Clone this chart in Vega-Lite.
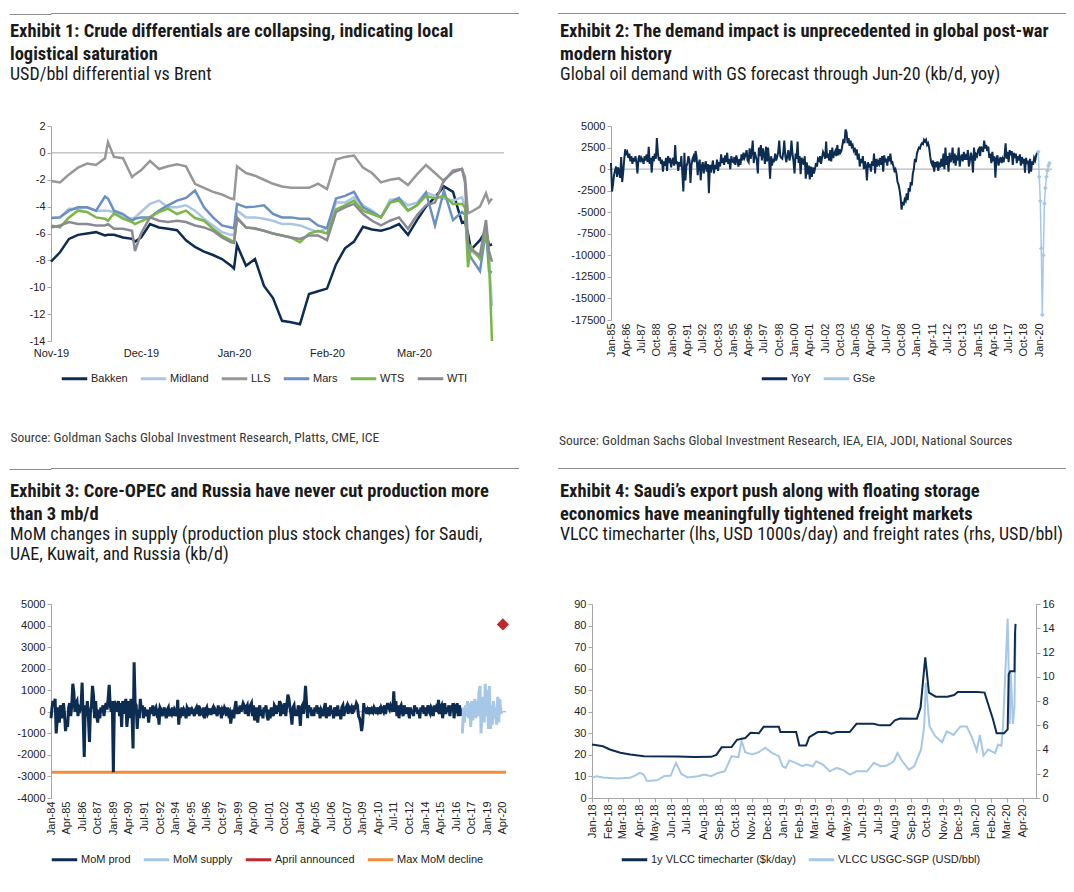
{
"$schema": "https://vega.github.io/schema/vega-lite/v6.json",
"padding": {"left": 8, "top": 10, "right": 0, "bottom": 0},
"background": "white",
"config": {
  "font": "Liberation Sans",
  "view": {"stroke": null},
  "locale": {"number": {"decimal": ".", "thousands": ",", "grouping": [3], "currency": ["$", ""], "minus": "-"}},
  "axis": {"labelFont": "Liberation Sans", "labelFontSize": 11, "labelColor": "#222222", "domainColor": "#a6a6a6", "tickColor": "#a6a6a6", "grid": false, "tickSize": 4, "labelPadding": 2},
  "legend": {"labelFont": "Liberation Sans", "labelFontSize": 11, "labelColor": "#222222", "symbolType": "stroke", "symbolStrokeWidth": 3, "symbolSize": 650, "labelOffset": 2, "columnPadding": 6},
  "title": {"font": "Roboto Condensed", "fontSize": 18.5, "fontWeight": "bold", "color": "#1a1a1a", "anchor": "start", "frame": "bounds", "lineHeight": 23, "subtitleFont": "Roboto Condensed", "subtitleFontSize": 18, "subtitleColor": "#1a1a1a", "subtitleLineHeight": 20, "subtitlePadding": 3, "dx": 1}
},
"datasets": {
"p1": [
{"d":"2019-11-01","Bakken":-8.1,"Midland":-4.85,"LLS":-2.1,"Mars":-4.85,"WTS":-5.4,"WTI":-5.55},
{"d":"2019-11-04","Bakken":-7.4,"Midland":-4.8,"LLS":-2.2,"Mars":-4.8,"WTS":-5.55,"WTI":-5.4},
{"d":"2019-11-07","Bakken":-6.4,"Midland":-4.15,"LLS":-1.6,"Mars":-4.3,"WTS":-4.8,"WTI":-5.15},
{"d":"2019-11-10","Bakken":-6.1,"Midland":-4.15,"LLS":-1.1,"Mars":-4.05,"WTS":-4.3,"WTI":-5.3},
{"d":"2019-11-13","Bakken":-6.0,"Midland":-4.05,"LLS":-0.8,"Mars":-4.05,"WTS":-4.4,"WTI":-5.3},
{"d":"2019-11-16","Bakken":-5.9,"Midland":-4.3,"LLS":-0.9,"Mars":-4.3,"WTS":-4.8,"WTI":-5.4},
{"d":"2019-11-19","Bakken":-6.15,"Midland":-4.3,"LLS":-0.4,"Mars":-3.25,"WTS":-4.9,"WTI":-5.4},
{"d":"2019-11-20","Bakken":-6.1,"Midland":-4.3,"LLS":0.8,"Mars":-3.4,"WTS":-5.05,"WTI":-5.3},
{"d":"2019-11-22","Bakken":-6.1,"Midland":-4.4,"LLS":-0.3,"Mars":-4.3,"WTS":-4.5,"WTI":-5.65},
{"d":"2019-11-25","Bakken":-6.3,"Midland":-4.75,"LLS":-0.4,"Mars":-4.55,"WTS":-4.9,"WTI":-5.65},
{"d":"2019-11-28","Bakken":-6.4,"Midland":-4.9,"LLS":-1.8,"Mars":-5.05,"WTS":-5.15,"WTI":-5.8},
{"d":"2019-11-29","Bakken":-6.6,"Midland":-4.8,"LLS":-1.6,"Mars":-4.9,"WTS":-5.3,"WTI":-7.3},
{"d":"2019-12-01","Bakken":-6.3,"Midland":-4.4,"LLS":-1.3,"Mars":-4.8,"WTS":-5.1,"WTI":-6.0},
{"d":"2019-12-04","Bakken":-5.3,"Midland":-3.8,"LLS":-0.6,"Mars":-4.8,"WTS":-4.8,"WTI":-4.8},
{"d":"2019-12-07","Bakken":-5.55,"Midland":-3.55,"LLS":-1.2,"Mars":-4.3,"WTS":-4.4,"WTI":-5.05},
{"d":"2019-12-10","Bakken":-5.65,"Midland":-4.05,"LLS":-1.0,"Mars":-3.9,"WTS":-4.15,"WTI":-5.15},
{"d":"2019-12-13","Bakken":-5.75,"Midland":-4.05,"LLS":-0.85,"Mars":-3.55,"WTS":-4.55,"WTI":-5.05},
{"d":"2019-12-16","Bakken":-6.5,"Midland":-3.9,"LLS":-1.0,"Mars":-3.35,"WTS":-4.3,"WTI":-5.15},
{"d":"2019-12-19","Bakken":-7.0,"Midland":-4.3,"LLS":-2.3,"Mars":-2.8,"WTS":-4.85,"WTI":-5.4},
{"d":"2019-12-22","Bakken":-7.35,"Midland":-4.9,"LLS":-2.6,"Mars":-4.05,"WTS":-5.05,"WTI":-5.55},
{"d":"2019-12-25","Bakken":-7.6,"Midland":-5.4,"LLS":-2.9,"Mars":-4.8,"WTS":-5.65,"WTI":-5.8},
{"d":"2019-12-28","Bakken":-7.9,"Midland":-5.9,"LLS":-3.1,"Mars":-5.4,"WTS":-6.15,"WTI":-6.3},
{"d":"2019-12-31","Bakken":-8.4,"Midland":-6.1,"LLS":-3.4,"Mars":-5.55,"WTS":-6.5,"WTI":-6.65},
{"d":"2020-01-01","Bakken":-8.6,"Midland":-6.1,"LLS":-3.45,"Mars":-5.6,"WTS":-6.65,"WTI":-6.7},
{"d":"2020-01-02","Bakken":-6.85,"Midland":-4.3,"LLS":-1.0,"Mars":-3.8,"WTS":-4.9,"WTI":-4.8},
{"d":"2020-01-05","Bakken":-8.4,"Midland":-4.8,"LLS":-1.5,"Mars":-4.05,"WTS":-5.55,"WTI":-5.55},
{"d":"2020-01-08","Bakken":-7.9,"Midland":-4.8,"LLS":-1.7,"Mars":-4.0,"WTS":-5.6,"WTI":-5.65},
{"d":"2020-01-11","Bakken":-9.9,"Midland":-4.9,"LLS":-2.0,"Mars":-3.9,"WTS":-5.8,"WTI":-5.8},
{"d":"2020-01-14","Bakken":-10.8,"Midland":-5.05,"LLS":-2.3,"Mars":-4.55,"WTS":-6.0,"WTI":-6.0},
{"d":"2020-01-17","Bakken":-12.5,"Midland":-5.3,"LLS":-2.5,"Mars":-4.8,"WTS":-6.15,"WTI":-6.15},
{"d":"2020-01-20","Bakken":-12.6,"Midland":-5.3,"LLS":-2.6,"Mars":-4.8,"WTS":-6.3,"WTI":-6.3},
{"d":"2020-01-23","Bakken":-12.75,"Midland":-5.4,"LLS":-2.6,"Mars":-4.9,"WTS":-6.65,"WTI":-6.4},
{"d":"2020-01-26","Bakken":-10.5,"Midland":-5.65,"LLS":-2.6,"Mars":-4.9,"WTS":-6.0,"WTI":-6.15},
{"d":"2020-01-29","Bakken":-10.3,"Midland":-5.9,"LLS":-2.3,"Mars":-5.4,"WTS":-5.8,"WTI":-6.15},
{"d":"2020-02-01","Bakken":-10.1,"Midland":-5.6,"LLS":-2.7,"Mars":-5.6,"WTS":-6.0,"WTI":-6.5},
{"d":"2020-02-04","Bakken":-8.3,"Midland":-3.7,"LLS":-0.5,"Mars":-3.4,"WTS":-4.2,"WTI":-4.4},
{"d":"2020-02-07","Bakken":-7.1,"Midland":-3.7,"LLS":-0.3,"Mars":-3.2,"WTS":-3.9,"WTI":-4.05},
{"d":"2020-02-10","Bakken":-6.6,"Midland":-3.3,"LLS":-0.2,"Mars":-2.9,"WTS":-3.55,"WTI":-3.8},
{"d":"2020-02-13","Bakken":-5.5,"Midland":-3.9,"LLS":-1.1,"Mars":-4.05,"WTS":-4.3,"WTI":-4.55},
{"d":"2020-02-16","Bakken":-5.7,"Midland":-4.3,"LLS":-1.5,"Mars":-4.4,"WTS":-4.55,"WTI":-5.05},
{"d":"2020-02-19","Bakken":-5.8,"Midland":-4.8,"LLS":-2.2,"Mars":-4.8,"WTS":-4.8,"WTI":-5.4},
{"d":"2020-02-22","Bakken":-5.6,"Midland":-3.5,"LLS":-2.0,"Mars":-3.7,"WTS":-3.7,"WTI":-5.05},
{"d":"2020-02-25","Bakken":-5.3,"Midland":-3.4,"LLS":-1.9,"Mars":-3.35,"WTS":-3.55,"WTI":-4.8},
{"d":"2020-02-28","Bakken":-6.1,"Midland":-3.9,"LLS":-2.4,"Mars":-4.3,"WTS":-4.3,"WTI":-5.65},
{"d":"2020-03-02","Bakken":-5.0,"Midland":-3.7,"LLS":-1.6,"Mars":-3.9,"WTS":-3.9,"WTI":-4.65},
{"d":"2020-03-05","Bakken":-4.0,"Midland":-2.95,"LLS":-0.9,"Mars":-2.95,"WTS":-3.2,"WTI":-3.9},
{"d":"2020-03-08","Bakken":-3.3,"Midland":-3.2,"LLS":-1.5,"Mars":-5.4,"WTS":-3.4,"WTI":-3.7},
{"d":"2020-03-11","Bakken":-2.5,"Midland":-3.4,"LLS":-2.1,"Mars":-2.8,"WTS":-3.2,"WTI":-2.0},
{"d":"2020-03-14","Bakken":-2.9,"Midland":-3.55,"LLS":-1.3,"Mars":-5.0,"WTS":-3.8,"WTI":-1.45},
{"d":"2020-03-17","Bakken":-5.2,"Midland":-3.3,"LLS":-1.2,"Mars":-4.4,"WTS":-3.8,"WTI":-1.2},
{"d":"2020-03-18","Bakken":-5.1,"Midland":-4.05,"LLS":-1.8,"Mars":-4.6,"WTS":-4.05,"WTI":-2.2},
{"d":"2020-03-19","Bakken":-6.0,"Midland":-6.8,"LLS":-4.5,"Mars":-7.3,"WTS":-8.5,"WTI":-6.8},
{"d":"2020-03-20","Bakken":-7.2,"Midland":-7.3,"LLS":-4.4,"Mars":-7.8,"WTS":-7.0,"WTI":-7.2},
{"d":"2020-03-23","Bakken":-6.5,"Midland":-7.8,"LLS":-4.0,"Mars":-8.8,"WTS":-7.9,"WTI":-7.6},
{"d":"2020-03-25","Bakken":-5.8,"Midland":-6.0,"LLS":-3.0,"Mars":-5.7,"WTS":-5.6,"WTI":-5.0},
{"d":"2020-03-26","Bakken":-6.9,"Midland":-8.0,"LLS":-3.7,"Mars":-8.8,"WTS":-8.0,"WTI":-7.3},
{"d":"2020-03-27","Bakken":-6.8,"Midland":-11.4,"LLS":-3.4,"Mars":-8.9,"WTS":-14.0,"WTI":-8.1}
],
"yoy": [
{"t":"1985-01","v":700},{"t":"1985-02","v":-2600},{"t":"1985-03","v":-1800},{"t":"1985-04","v":-700},{"t":"1985-05","v":-200},{"t":"1985-06","v":300},{"t":"1985-07","v":-900},{"t":"1985-08","v":200},{"t":"1985-09","v":-300},{"t":"1985-10","v":-1000},{"t":"1985-11","v":1400},{"t":"1985-12","v":-1500},
{"t":"1986-01","v":-300},{"t":"1986-02","v":1200},{"t":"1986-03","v":2300},{"t":"1986-04","v":1800},{"t":"1986-05","v":2000},{"t":"1986-06","v":1300},{"t":"1986-07","v":1800},{"t":"1986-08","v":900},{"t":"1986-09","v":1500},{"t":"1986-10","v":600},{"t":"1986-11","v":1300},{"t":"1986-12","v":900},
{"t":"1987-01","v":1500},{"t":"1987-02","v":700},{"t":"1987-03","v":-500},{"t":"1987-04","v":1200},{"t":"1987-05","v":1600},{"t":"1987-06","v":800},{"t":"1987-07","v":1300},{"t":"1987-08","v":1100},{"t":"1987-09","v":600},{"t":"1987-10","v":1500},{"t":"1987-11","v":1000},{"t":"1987-12","v":1700},
{"t":"1988-01","v":800},{"t":"1988-02","v":2600},{"t":"1988-03","v":600},{"t":"1988-04","v":1300},{"t":"1988-05","v":-400},{"t":"1988-06","v":1500},{"t":"1988-07","v":900},{"t":"1988-08","v":1800},{"t":"1988-09","v":1200},{"t":"1988-10","v":3600},{"t":"1988-11","v":1800},{"t":"1988-12","v":1000},
{"t":"1989-01","v":1400},{"t":"1989-02","v":600},{"t":"1989-03","v":1100},{"t":"1989-04","v":-300},{"t":"1989-05","v":900},{"t":"1989-06","v":400},{"t":"1989-07","v":1300},{"t":"1989-08","v":-200},{"t":"1989-09","v":1500},{"t":"1989-10","v":700},{"t":"1989-11","v":1300},{"t":"1989-12","v":200},
{"t":"1990-01","v":900},{"t":"1990-02","v":1300},{"t":"1990-03","v":400},{"t":"1990-04","v":2800},{"t":"1990-05","v":600},{"t":"1990-06","v":900},{"t":"1990-07","v":-200},{"t":"1990-08","v":800},{"t":"1990-09","v":300},{"t":"1990-10","v":1500},{"t":"1990-11","v":-600},{"t":"1990-12","v":-2600},
{"t":"1991-01","v":1900},{"t":"1991-02","v":-1300},{"t":"1991-03","v":300},{"t":"1991-04","v":700},{"t":"1991-05","v":1500},{"t":"1991-06","v":1000},{"t":"1991-07","v":-1600},{"t":"1991-08","v":500},{"t":"1991-09","v":1200},{"t":"1991-10","v":1500},{"t":"1991-11","v":800},{"t":"1991-12","v":2100},
{"t":"1992-01","v":1400},{"t":"1992-02","v":-700},{"t":"1992-03","v":600},{"t":"1992-04","v":1100},{"t":"1992-05","v":-1300},{"t":"1992-06","v":300},{"t":"1992-07","v":800},{"t":"1992-08","v":-500},{"t":"1992-09","v":400},{"t":"1992-10","v":900},{"t":"1992-11","v":-300},{"t":"1992-12","v":600},
{"t":"1993-01","v":-2800},{"t":"1993-02","v":500},{"t":"1993-03","v":-400},{"t":"1993-04","v":300},{"t":"1993-05","v":1000},{"t":"1993-06","v":-500},{"t":"1993-07","v":500},{"t":"1993-08","v":0},{"t":"1993-09","v":1100},{"t":"1993-10","v":-200},{"t":"1993-11","v":800},{"t":"1993-12","v":300},
{"t":"1994-01","v":1700},{"t":"1994-02","v":700},{"t":"1994-03","v":1300},{"t":"1994-04","v":500},{"t":"1994-05","v":1600},{"t":"1994-06","v":800},{"t":"1994-07","v":1900},{"t":"1994-08","v":600},{"t":"1994-09","v":1200},{"t":"1994-10","v":0},{"t":"1994-11","v":1500},{"t":"1994-12","v":900},
{"t":"1995-01","v":800},{"t":"1995-02","v":1400},{"t":"1995-03","v":500},{"t":"1995-04","v":1600},{"t":"1995-05","v":1000},{"t":"1995-06","v":300},{"t":"1995-07","v":1200},{"t":"1995-08","v":500},{"t":"1995-09","v":1700},{"t":"1995-10","v":1000},{"t":"1995-11","v":1900},{"t":"1995-12","v":1300},
{"t":"1996-01","v":1600},{"t":"1996-02","v":2200},{"t":"1996-03","v":1000},{"t":"1996-04","v":800},{"t":"1996-05","v":2400},{"t":"1996-06","v":1200},{"t":"1996-07","v":1900},{"t":"1996-08","v":3300},{"t":"1996-09","v":700},{"t":"1996-10","v":2000},{"t":"1996-11","v":1500},{"t":"1996-12","v":1000},
{"t":"1997-01","v":-500},{"t":"1997-02","v":2500},{"t":"1997-03","v":1500},{"t":"1997-04","v":2800},{"t":"1997-05","v":1000},{"t":"1997-06","v":2400},{"t":"1997-07","v":1700},{"t":"1997-08","v":600},{"t":"1997-09","v":2600},{"t":"1997-10","v":900},{"t":"1997-11","v":2500},{"t":"1997-12","v":1200},
{"t":"1998-01","v":-1100},{"t":"1998-02","v":1500},{"t":"1998-03","v":400},{"t":"1998-04","v":1200},{"t":"1998-05","v":800},{"t":"1998-06","v":1800},{"t":"1998-07","v":1000},{"t":"1998-08","v":1400},{"t":"1998-09","v":2000},{"t":"1998-10","v":3300},{"t":"1998-11","v":1500},{"t":"1998-12","v":1300},
{"t":"1999-01","v":1200},{"t":"1999-02","v":2000},{"t":"1999-03","v":3300},{"t":"1999-04","v":1500},{"t":"1999-05","v":800},{"t":"1999-06","v":1600},{"t":"1999-07","v":2200},{"t":"1999-08","v":1000},{"t":"1999-09","v":1500},{"t":"1999-10","v":3300},{"t":"1999-11","v":1800},{"t":"1999-12","v":900},
{"t":"2000-01","v":-500},{"t":"2000-02","v":1800},{"t":"2000-03","v":1200},{"t":"2000-04","v":3200},{"t":"2000-05","v":700},{"t":"2000-06","v":1500},{"t":"2000-07","v":-600},{"t":"2000-08","v":1300},{"t":"2000-09","v":1000},{"t":"2000-10","v":500},{"t":"2000-11","v":1500},{"t":"2000-12","v":-1100},
{"t":"2001-01","v":800},{"t":"2001-02","v":-600},{"t":"2001-03","v":400},{"t":"2001-04","v":-1200},{"t":"2001-05","v":300},{"t":"2001-06","v":-900},{"t":"2001-07","v":200},{"t":"2001-08","v":-500},{"t":"2001-09","v":0},{"t":"2001-10","v":700},{"t":"2001-11","v":300},{"t":"2001-12","v":1200},
{"t":"2002-01","v":1000},{"t":"2002-02","v":1500},{"t":"2002-03","v":600},{"t":"2002-04","v":1300},{"t":"2002-05","v":2000},{"t":"2002-06","v":1700},{"t":"2002-07","v":1200},{"t":"2002-08","v":3200},{"t":"2002-09","v":1300},{"t":"2002-10","v":1800},{"t":"2002-11","v":1000},{"t":"2002-12","v":2200},
{"t":"2003-01","v":900},{"t":"2003-02","v":2500},{"t":"2003-03","v":1300},{"t":"2003-04","v":1800},{"t":"2003-05","v":2100},{"t":"2003-06","v":1500},{"t":"2003-07","v":2800},{"t":"2003-08","v":1600},{"t":"2003-09","v":2300},{"t":"2003-10","v":1900},{"t":"2003-11","v":2100},{"t":"2003-12","v":2800},
{"t":"2004-01","v":3500},{"t":"2004-02","v":3000},{"t":"2004-03","v":4600},{"t":"2004-04","v":4300},{"t":"2004-05","v":3000},{"t":"2004-06","v":3600},{"t":"2004-07","v":2700},{"t":"2004-08","v":3300},{"t":"2004-09","v":2600},{"t":"2004-10","v":2800},{"t":"2004-11","v":2200},{"t":"2004-12","v":2500},
{"t":"2005-01","v":1600},{"t":"2005-02","v":2300},{"t":"2005-03","v":1100},{"t":"2005-04","v":1800},{"t":"2005-05","v":300},{"t":"2005-06","v":1200},{"t":"2005-07","v":700},{"t":"2005-08","v":1500},{"t":"2005-09","v":0},{"t":"2005-10","v":900},{"t":"2005-11","v":400},{"t":"2005-12","v":-1300},
{"t":"2006-01","v":800},{"t":"2006-02","v":200},{"t":"2006-03","v":600},{"t":"2006-04","v":-300},{"t":"2006-05","v":900},{"t":"2006-06","v":400},{"t":"2006-07","v":1800},{"t":"2006-08","v":-500},{"t":"2006-09","v":1200},{"t":"2006-10","v":300},{"t":"2006-11","v":900},{"t":"2006-12","v":600},
{"t":"2007-01","v":1300},{"t":"2007-02","v":500},{"t":"2007-03","v":1500},{"t":"2007-04","v":-300},{"t":"2007-05","v":1600},{"t":"2007-06","v":800},{"t":"2007-07","v":1200},{"t":"2007-08","v":400},{"t":"2007-09","v":1500},{"t":"2007-10","v":900},{"t":"2007-11","v":1800},{"t":"2007-12","v":700},
{"t":"2008-01","v":800},{"t":"2008-02","v":300},{"t":"2008-03","v":-200},{"t":"2008-04","v":0},{"t":"2008-05","v":-500},{"t":"2008-06","v":-1500},{"t":"2008-07","v":-1800},{"t":"2008-08","v":-2400},{"t":"2008-09","v":-3300},{"t":"2008-10","v":-4700},{"t":"2008-11","v":-3800},{"t":"2008-12","v":-4200},
{"t":"2009-01","v":-3500},{"t":"2009-02","v":-3700},{"t":"2009-03","v":-2800},{"t":"2009-04","v":-3600},{"t":"2009-05","v":-2200},{"t":"2009-06","v":-2600},{"t":"2009-07","v":-1500},{"t":"2009-08","v":-1900},{"t":"2009-09","v":-500},{"t":"2009-10","v":0},{"t":"2009-11","v":1200},{"t":"2009-12","v":800},
{"t":"2010-01","v":1800},{"t":"2010-02","v":2200},{"t":"2010-03","v":2500},{"t":"2010-04","v":2400},{"t":"2010-05","v":2800},{"t":"2010-06","v":3000},{"t":"2010-07","v":2900},{"t":"2010-08","v":3400},{"t":"2010-09","v":3200},{"t":"2010-10","v":3400},{"t":"2010-11","v":2800},{"t":"2010-12","v":3000},
{"t":"2011-01","v":2500},{"t":"2011-02","v":1500},{"t":"2011-03","v":800},{"t":"2011-04","v":500},{"t":"2011-05","v":1000},{"t":"2011-06","v":-300},{"t":"2011-07","v":800},{"t":"2011-08","v":200},{"t":"2011-09","v":900},{"t":"2011-10","v":-200},{"t":"2011-11","v":600},{"t":"2011-12","v":400},
{"t":"2012-01","v":1200},{"t":"2012-02","v":300},{"t":"2012-03","v":1800},{"t":"2012-04","v":0},{"t":"2012-05","v":2500},{"t":"2012-06","v":500},{"t":"2012-07","v":1500},{"t":"2012-08","v":-300},{"t":"2012-09","v":1900},{"t":"2012-10","v":800},{"t":"2012-11","v":1200},{"t":"2012-12","v":2500},
{"t":"2013-01","v":700},{"t":"2013-02","v":1800},{"t":"2013-03","v":400},{"t":"2013-04","v":1600},{"t":"2013-05","v":1000},{"t":"2013-06","v":2500},{"t":"2013-07","v":300},{"t":"2013-08","v":1300},{"t":"2013-09","v":1700},{"t":"2013-10","v":900},{"t":"2013-11","v":2000},{"t":"2013-12","v":1100},
{"t":"2014-01","v":1500},{"t":"2014-02","v":1100},{"t":"2014-03","v":2200},{"t":"2014-04","v":300},{"t":"2014-05","v":1000},{"t":"2014-06","v":1900},{"t":"2014-07","v":1300},{"t":"2014-08","v":-400},{"t":"2014-09","v":2500},{"t":"2014-10","v":1000},{"t":"2014-11","v":1700},{"t":"2014-12","v":1500},
{"t":"2015-01","v":2200},{"t":"2015-02","v":2400},{"t":"2015-03","v":1500},{"t":"2015-04","v":2600},{"t":"2015-05","v":2300},{"t":"2015-06","v":2000},{"t":"2015-07","v":3300},{"t":"2015-08","v":2400},{"t":"2015-09","v":2800},{"t":"2015-10","v":2100},{"t":"2015-11","v":2600},{"t":"2015-12","v":1300},
{"t":"2016-01","v":1800},{"t":"2016-02","v":700},{"t":"2016-03","v":2000},{"t":"2016-04","v":900},{"t":"2016-05","v":1500},{"t":"2016-06","v":-1000},{"t":"2016-07","v":1200},{"t":"2016-08","v":1600},{"t":"2016-09","v":400},{"t":"2016-10","v":1000},{"t":"2016-11","v":1400},{"t":"2016-12","v":700},
{"t":"2017-01","v":1200},{"t":"2017-02","v":800},{"t":"2017-03","v":1500},{"t":"2017-04","v":3000},{"t":"2017-05","v":1200},{"t":"2017-06","v":2000},{"t":"2017-07","v":800},{"t":"2017-08","v":2200},{"t":"2017-09","v":1600},{"t":"2017-10","v":2100},{"t":"2017-11","v":500},{"t":"2017-12","v":1900},
{"t":"2018-01","v":1300},{"t":"2018-02","v":1800},{"t":"2018-03","v":700},{"t":"2018-04","v":1500},{"t":"2018-05","v":1000},{"t":"2018-06","v":1700},{"t":"2018-07","v":400},{"t":"2018-08","v":1400},{"t":"2018-09","v":900},{"t":"2018-10","v":1200},{"t":"2018-11","v":-400},{"t":"2018-12","v":1300},
{"t":"2019-01","v":600},{"t":"2019-02","v":1000},{"t":"2019-03","v":-500},{"t":"2019-04","v":1200},{"t":"2019-05","v":-300},{"t":"2019-06","v":900},{"t":"2019-07","v":500},{"t":"2019-08","v":1300},{"t":"2019-09","v":1000},{"t":"2019-10","v":1600},{"t":"2019-11","v":1900}
],
"gse": [
{"t":"2019-12","v":2000},{"t":"2020-01","v":-900},{"t":"2020-02","v":-3700},{"t":"2020-03","v":-9200},{"t":"2020-04","v":-16900},{"t":"2020-05","v":-10000},{"t":"2020-06","v":-4000},{"t":"2020-07","v":-2200},{"t":"2020-08","v":-900},{"t":"2020-09","v":-200},{"t":"2020-10","v":400},{"t":"2020-11","v":700}
],
"prod": [
{"t":"1984-01","v":-300},{"t":"1984-02","v":200},{"t":"1984-03","v":500},{"t":"1984-04","v":300},{"t":"1984-05","v":600},{"t":"1984-06","v":-1000},{"t":"1984-07","v":-400},{"t":"1984-08","v":200},{"t":"1984-09","v":-500},{"t":"1984-10","v":300},{"t":"1984-11","v":100},{"t":"1984-12","v":-300},
{"t":"1985-01","v":400},{"t":"1985-02","v":-100},{"t":"1985-03","v":-900},{"t":"1985-04","v":-500},{"t":"1985-05","v":-700},{"t":"1985-06","v":200},{"t":"1985-07","v":400},{"t":"1985-08","v":-200},{"t":"1985-09","v":300},{"t":"1985-10","v":1300},{"t":"1985-11","v":900},{"t":"1985-12","v":0},
{"t":"1986-01","v":400},{"t":"1986-02","v":500},{"t":"1986-03","v":-200},{"t":"1986-04","v":200},{"t":"1986-05","v":100},{"t":"1986-06","v":300},{"t":"1986-07","v":1350},{"t":"1986-08","v":-300},{"t":"1986-09","v":-2100},{"t":"1986-10","v":300},{"t":"1986-11","v":-200},{"t":"1986-12","v":500},
{"t":"1987-01","v":-300},{"t":"1987-02","v":-1400},{"t":"1987-03","v":0},{"t":"1987-04","v":300},{"t":"1987-05","v":1200},{"t":"1987-06","v":700},{"t":"1987-07","v":-300},{"t":"1987-08","v":500},{"t":"1987-09","v":-200},{"t":"1987-10","v":-500},{"t":"1987-11","v":100},{"t":"1987-12","v":-300},
{"t":"1988-01","v":200},{"t":"1988-02","v":0},{"t":"1988-03","v":300},{"t":"1988-04","v":-200},{"t":"1988-05","v":200},{"t":"1988-06","v":400},{"t":"1988-07","v":100},{"t":"1988-08","v":600},{"t":"1988-09","v":1250},{"t":"1988-10","v":300},{"t":"1988-11","v":0},{"t":"1988-12","v":500},
{"t":"1989-01","v":-2800},{"t":"1989-02","v":500},{"t":"1989-03","v":400},{"t":"1989-04","v":200},{"t":"1989-05","v":0},{"t":"1989-06","v":500},{"t":"1989-07","v":-200},{"t":"1989-08","v":400},{"t":"1989-09","v":-700},{"t":"1989-10","v":500},{"t":"1989-11","v":300},{"t":"1989-12","v":-100},
{"t":"1990-01","v":600},{"t":"1990-02","v":-700},{"t":"1990-03","v":-200},{"t":"1990-04","v":500},{"t":"1990-05","v":-300},{"t":"1990-06","v":600},{"t":"1990-07","v":-100},{"t":"1990-08","v":-1700},{"t":"1990-09","v":2300},{"t":"1990-10","v":400},{"t":"1990-11","v":300},{"t":"1990-12","v":-800},
{"t":"1991-01","v":100},{"t":"1991-02","v":-300},{"t":"1991-03","v":600},{"t":"1991-04","v":100},{"t":"1991-05","v":300},{"t":"1991-06","v":-300},{"t":"1991-07","v":200},{"t":"1991-08","v":0},{"t":"1991-09","v":-200},{"t":"1991-10","v":100},{"t":"1991-11","v":-500},{"t":"1991-12","v":0},
{"t":"1992-01","v":200},{"t":"1992-02","v":-100},{"t":"1992-03","v":300},{"t":"1992-04","v":-200},{"t":"1992-05","v":100},{"t":"1992-06","v":200},{"t":"1992-07","v":-100},{"t":"1992-08","v":0},{"t":"1992-09","v":-600},{"t":"1992-10","v":200},{"t":"1992-11","v":100},{"t":"1992-12","v":-200},
{"t":"1993-01","v":0},{"t":"1993-02","v":200},{"t":"1993-03","v":-100},{"t":"1993-04","v":-300},{"t":"1993-05","v":100},{"t":"1993-06","v":200},{"t":"1993-07","v":-200},{"t":"1993-08","v":0},{"t":"1993-09","v":-100},{"t":"1993-10","v":200},{"t":"1993-11","v":-200},{"t":"1993-12","v":100},
{"t":"1994-01","v":0},{"t":"1994-02","v":-200},{"t":"1994-03","v":550},{"t":"1994-04","v":-600},{"t":"1994-05","v":0},{"t":"1994-06","v":-100},{"t":"1994-07","v":200},{"t":"1994-08","v":-200},{"t":"1994-09","v":100},{"t":"1994-10","v":0},{"t":"1994-11","v":-300},{"t":"1994-12","v":200},
{"t":"1995-01","v":100},{"t":"1995-02","v":-200},{"t":"1995-03","v":200},{"t":"1995-04","v":-100},{"t":"1995-05","v":100},{"t":"1995-06","v":0},{"t":"1995-07","v":-200},{"t":"1995-08","v":100},{"t":"1995-09","v":200},{"t":"1995-10","v":-100},{"t":"1995-11","v":300},{"t":"1995-12","v":-200},
{"t":"1996-01","v":100},{"t":"1996-02","v":0},{"t":"1996-03","v":-100},{"t":"1996-04","v":200},{"t":"1996-05","v":-300},{"t":"1996-06","v":100},{"t":"1996-07","v":200},{"t":"1996-08","v":-100},{"t":"1996-09","v":0},{"t":"1996-10","v":150},{"t":"1996-11","v":-150},{"t":"1996-12","v":100},
{"t":"1997-01","v":200},{"t":"1997-02","v":-100},{"t":"1997-03","v":100},{"t":"1997-04","v":0},{"t":"1997-05","v":-200},{"t":"1997-06","v":300},{"t":"1997-07","v":-100},{"t":"1997-08","v":200},{"t":"1997-09","v":-300},{"t":"1997-10","v":100},{"t":"1997-11","v":0},{"t":"1997-12","v":200},
{"t":"1998-01","v":100},{"t":"1998-02","v":-200},{"t":"1998-03","v":200},{"t":"1998-04","v":-100},{"t":"1998-05","v":0},{"t":"1998-06","v":-550},{"t":"1998-07","v":-200},{"t":"1998-08","v":100},{"t":"1998-09","v":-300},{"t":"1998-10","v":200},{"t":"1998-11","v":500},{"t":"1998-12","v":-100},
{"t":"1999-01","v":200},{"t":"1999-02","v":-100},{"t":"1999-03","v":300},{"t":"1999-04","v":0},{"t":"1999-05","v":200},{"t":"1999-06","v":400},{"t":"1999-07","v":300},{"t":"1999-08","v":-100},{"t":"1999-09","v":200},{"t":"1999-10","v":300},{"t":"1999-11","v":-200},{"t":"1999-12","v":100},
{"t":"2000-01","v":300},{"t":"2000-02","v":400},{"t":"2000-03","v":-200},{"t":"2000-04","v":300},{"t":"2000-05","v":-400},{"t":"2000-06","v":-100},{"t":"2000-07","v":200},{"t":"2000-08","v":-500},{"t":"2000-09","v":0},{"t":"2000-10","v":300},{"t":"2000-11","v":-200},{"t":"2000-12","v":100},
{"t":"2001-01","v":-300},{"t":"2001-02","v":200},{"t":"2001-03","v":0},{"t":"2001-04","v":300},{"t":"2001-05","v":-200},{"t":"2001-06","v":-400},{"t":"2001-07","v":100},{"t":"2001-08","v":-300},{"t":"2001-09","v":200},{"t":"2001-10","v":0},{"t":"2001-11","v":-200},{"t":"2001-12","v":300},
{"t":"2002-01","v":200},{"t":"2002-02","v":-100},{"t":"2002-03","v":300},{"t":"2002-04","v":0},{"t":"2002-05","v":500},{"t":"2002-06","v":-200},{"t":"2002-07","v":300},{"t":"2002-08","v":200},{"t":"2002-09","v":-100},{"t":"2002-10","v":400},{"t":"2002-11","v":-200},{"t":"2002-12","v":300},
{"t":"2003-01","v":800},{"t":"2003-02","v":600},{"t":"2003-03","v":200},{"t":"2003-04","v":-100},{"t":"2003-05","v":-600},{"t":"2003-06","v":200},{"t":"2003-07","v":300},{"t":"2003-08","v":-200},{"t":"2003-09","v":100},{"t":"2003-10","v":-200},{"t":"2003-11","v":300},{"t":"2003-12","v":100},
{"t":"2004-01","v":-650},{"t":"2004-02","v":200},{"t":"2004-03","v":300},{"t":"2004-04","v":-100},{"t":"2004-05","v":400},{"t":"2004-06","v":1200},{"t":"2004-07","v":400},{"t":"2004-08","v":-300},{"t":"2004-09","v":300},{"t":"2004-10","v":0},{"t":"2004-11","v":200},{"t":"2004-12","v":-200},
{"t":"2005-01","v":100},{"t":"2005-02","v":-200},{"t":"2005-03","v":200},{"t":"2005-04","v":0},{"t":"2005-05","v":300},{"t":"2005-06","v":-100},{"t":"2005-07","v":200},{"t":"2005-08","v":-300},{"t":"2005-09","v":100},{"t":"2005-10","v":0},{"t":"2005-11","v":-200},{"t":"2005-12","v":200},
{"t":"2006-01","v":400},{"t":"2006-02","v":-300},{"t":"2006-03","v":200},{"t":"2006-04","v":0},{"t":"2006-05","v":-200},{"t":"2006-06","v":300},{"t":"2006-07","v":-100},{"t":"2006-08","v":100},{"t":"2006-09","v":-300},{"t":"2006-10","v":200},{"t":"2006-11","v":0},{"t":"2006-12","v":-200},
{"t":"2007-01","v":300},{"t":"2007-02","v":-200},{"t":"2007-03","v":100},{"t":"2007-04","v":-350},{"t":"2007-05","v":200},{"t":"2007-06","v":300},{"t":"2007-07","v":-200},{"t":"2007-08","v":100},{"t":"2007-09","v":200},{"t":"2007-10","v":300},{"t":"2007-11","v":-100},{"t":"2007-12","v":200},
{"t":"2008-01","v":100},{"t":"2008-02","v":200},{"t":"2008-03","v":-100},{"t":"2008-04","v":300},{"t":"2008-05","v":100},{"t":"2008-06","v":200},{"t":"2008-07","v":400},{"t":"2008-08","v":300},{"t":"2008-09","v":-200},{"t":"2008-10","v":-300},{"t":"2008-11","v":-500},{"t":"2008-12","v":-900},
{"t":"2009-01","v":-500},{"t":"2009-02","v":400},{"t":"2009-03","v":0},{"t":"2009-04","v":200},{"t":"2009-05","v":-100},{"t":"2009-06","v":100},{"t":"2009-07","v":0},{"t":"2009-08","v":200},{"t":"2009-09","v":-100},{"t":"2009-10","v":100},{"t":"2009-11","v":0},{"t":"2009-12","v":200},
{"t":"2010-01","v":100},{"t":"2010-02","v":-100},{"t":"2010-03","v":200},{"t":"2010-04","v":0},{"t":"2010-05","v":100},{"t":"2010-06","v":-100},{"t":"2010-07","v":200},{"t":"2010-08","v":100},{"t":"2010-09","v":0},{"t":"2010-10","v":300},{"t":"2010-11","v":-100},{"t":"2010-12","v":200},
{"t":"2011-01","v":400},{"t":"2011-02","v":200},{"t":"2011-03","v":100},{"t":"2011-04","v":300},{"t":"2011-05","v":200},{"t":"2011-06","v":0},{"t":"2011-07","v":950},{"t":"2011-08","v":0},{"t":"2011-09","v":500},{"t":"2011-10","v":-200},{"t":"2011-11","v":300},{"t":"2011-12","v":-300},
{"t":"2012-01","v":200},{"t":"2012-02","v":300},{"t":"2012-03","v":0},{"t":"2012-04","v":-200},{"t":"2012-05","v":300},{"t":"2012-06","v":100},{"t":"2012-07","v":-100},{"t":"2012-08","v":200},{"t":"2012-09","v":0},{"t":"2012-10","v":-300},{"t":"2012-11","v":200},{"t":"2012-12","v":-100},
{"t":"2013-01","v":100},{"t":"2013-02","v":-200},{"t":"2013-03","v":300},{"t":"2013-04","v":0},{"t":"2013-05","v":200},{"t":"2013-06","v":-100},{"t":"2013-07","v":100},{"t":"2013-08","v":-300},{"t":"2013-09","v":200},{"t":"2013-10","v":0},{"t":"2013-11","v":300},{"t":"2013-12","v":-100},
{"t":"2014-01","v":200},{"t":"2014-02","v":-200},{"t":"2014-03","v":100},{"t":"2014-04","v":300},{"t":"2014-05","v":0},{"t":"2014-06","v":-100},{"t":"2014-07","v":200},{"t":"2014-08","v":100},{"t":"2014-09","v":-200},{"t":"2014-10","v":300},{"t":"2014-11","v":0},{"t":"2014-12","v":200},
{"t":"2015-01","v":100},{"t":"2015-02","v":550},{"t":"2015-03","v":-100},{"t":"2015-04","v":200},{"t":"2015-05","v":300},{"t":"2015-06","v":-300},{"t":"2015-07","v":100},{"t":"2015-08","v":400},{"t":"2015-09","v":-100},{"t":"2015-10","v":200},{"t":"2015-11","v":0},{"t":"2015-12","v":300},
{"t":"2016-01","v":-200},{"t":"2016-02","v":300},{"t":"2016-03","v":100},{"t":"2016-04","v":400},{"t":"2016-05","v":-300},{"t":"2016-06","v":200},{"t":"2016-07","v":100},{"t":"2016-08","v":400},{"t":"2016-09","v":-200},{"t":"2016-10","v":300},{"t":"2016-11","v":100},{"t":"2016-12","v":-200}
],
"supply": [
{"t":"2017-01","v":-1000},{"t":"2017-02","v":200},{"t":"2017-03","v":-500},{"t":"2017-04","v":300},{"t":"2017-05","v":-200},{"t":"2017-06","v":500},{"t":"2017-07","v":-300},{"t":"2017-08","v":400},{"t":"2017-09","v":-700},{"t":"2017-10","v":500},{"t":"2017-11","v":-400},{"t":"2017-12","v":200},
{"t":"2018-01","v":600},{"t":"2018-02","v":-300},{"t":"2018-03","v":500},{"t":"2018-04","v":-200},{"t":"2018-05","v":900},{"t":"2018-06","v":1200},{"t":"2018-07","v":-1000},{"t":"2018-08","v":300},{"t":"2018-09","v":700},{"t":"2018-10","v":-500},{"t":"2018-11","v":1300},{"t":"2018-12","v":-200},
{"t":"2019-01","v":1000},{"t":"2019-02","v":-800},{"t":"2019-03","v":1200},{"t":"2019-04","v":-800},{"t":"2019-05","v":300},{"t":"2019-06","v":-600},{"t":"2019-07","v":500},{"t":"2019-08","v":-300},{"t":"2019-09","v":200},{"t":"2019-10","v":-600},{"t":"2019-11","v":700},{"t":"2019-12","v":-500},
{"t":"2020-01","v":600},{"t":"2020-02","v":0},{"t":"2020-03","v":-100}
],
"tc": [
{"t":"2018-01-01","v":24.8},{"t":"2018-01-22","v":24.0},{"t":"2018-02-04","v":22.5},{"t":"2018-02-24","v":21.0},{"t":"2018-03-15","v":20.2},{"t":"2018-04-10","v":19.4},{"t":"2018-06-13","v":19.3},{"t":"2018-07-15","v":19.0},{"t":"2018-08-16","v":19.1},{"t":"2018-08-26","v":20.0},{"t":"2018-09-05","v":23.5},{"t":"2018-09-24","v":23.6},{"t":"2018-10-04","v":27.0},{"t":"2018-10-20","v":27.8},{"t":"2018-10-30","v":30.3},{"t":"2018-11-15","v":30.0},{"t":"2018-11-24","v":33.0},{"t":"2018-12-23","v":33.0},{"t":"2018-12-26","v":30.6},
{"t":"2019-01-25","v":30.6},{"t":"2019-01-31","v":24.4},{"t":"2019-02-13","v":24.4},{"t":"2019-02-19","v":28.2},{"t":"2019-03-07","v":30.6},{"t":"2019-03-23","v":30.7},{"t":"2019-04-02","v":29.8},{"t":"2019-04-12","v":30.6},{"t":"2019-05-07","v":30.6},{"t":"2019-05-20","v":34.4},{"t":"2019-06-21","v":34.4},{"t":"2019-07-04","v":33.7},{"t":"2019-07-23","v":33.7},{"t":"2019-08-01","v":36.0},{"t":"2019-08-11","v":36.9},{"t":"2019-09-12","v":36.8},{"t":"2019-09-19","v":41.9},{"t":"2019-09-28","v":65.2},{"t":"2019-10-05","v":48.9},{"t":"2019-10-18","v":47.0},{"t":"2019-11-09","v":47.0},{"t":"2019-11-22","v":47.8},{"t":"2019-11-29","v":49.2},
{"t":"2020-01-06","v":49.2},{"t":"2020-01-19","v":48.9},{"t":"2020-01-25","v":44.2},{"t":"2020-02-04","v":36.5},{"t":"2020-02-11","v":30.0},{"t":"2020-02-25","v":30.0},{"t":"2020-03-03","v":31.8},{"t":"2020-03-05","v":57.4},{"t":"2020-03-08","v":58.8},{"t":"2020-03-16","v":58.8},{"t":"2020-03-17","v":76.0},{"t":"2020-03-18","v":80.8}
],
"fr": [
{"t":"2018-01-01","v":1.66},{"t":"2018-01-09","v":1.8},{"t":"2018-01-22","v":1.7},{"t":"2018-02-17","v":1.6},{"t":"2018-03-14","v":1.66},{"t":"2018-03-24","v":1.85},{"t":"2018-04-02","v":2.07},{"t":"2018-04-09","v":1.95},{"t":"2018-04-16","v":1.4},{"t":"2018-05-05","v":1.46},{"t":"2018-05-18","v":1.8},{"t":"2018-05-31","v":1.85},{"t":"2018-06-10","v":2.9},{"t":"2018-06-20","v":2.0},{"t":"2018-07-02","v":1.7},{"t":"2018-07-22","v":1.8},{"t":"2018-08-03","v":1.93},{"t":"2018-08-16","v":1.8},{"t":"2018-08-29","v":2.07},{"t":"2018-09-11","v":2.2},{"t":"2018-09-24","v":3.45},{"t":"2018-10-07","v":3.37},{"t":"2018-10-13","v":4.7},{"t":"2018-10-20","v":3.78},{"t":"2018-11-02","v":3.6},{"t":"2018-11-15","v":3.78},{"t":"2018-11-27","v":4.14},{"t":"2018-12-10","v":3.72},{"t":"2018-12-23","v":3.45},{"t":"2018-12-30","v":2.62},
{"t":"2019-01-05","v":2.48},{"t":"2019-01-12","v":3.1},{"t":"2019-01-24","v":2.9},{"t":"2019-02-06","v":2.62},{"t":"2019-02-13","v":2.76},{"t":"2019-02-26","v":2.62},{"t":"2019-03-04","v":3.03},{"t":"2019-03-17","v":2.76},{"t":"2019-03-30","v":2.2},{"t":"2019-04-12","v":2.48},{"t":"2019-04-25","v":2.3},{"t":"2019-05-07","v":1.93},{"t":"2019-05-20","v":2.2},{"t":"2019-06-09","v":2.2},{"t":"2019-06-22","v":2.9},{"t":"2019-07-05","v":2.62},{"t":"2019-07-17","v":2.68},{"t":"2019-07-30","v":3.03},{"t":"2019-08-06","v":3.72},{"t":"2019-08-15","v":3.03},{"t":"2019-08-28","v":2.34},{"t":"2019-09-07","v":2.62},{"t":"2019-09-20","v":4.0},{"t":"2019-09-26","v":5.93},{"t":"2019-09-29","v":9.5},{"t":"2019-10-06","v":5.93},{"t":"2019-10-17","v":5.1},{"t":"2019-10-30","v":4.6},{"t":"2019-11-08","v":5.5},{"t":"2019-11-21","v":5.2},{"t":"2019-12-04","v":5.9},{"t":"2019-12-16","v":5.9},{"t":"2019-12-26","v":5.0},
{"t":"2020-01-04","v":3.9},{"t":"2020-01-10","v":5.2},{"t":"2020-01-17","v":3.5},{"t":"2020-01-26","v":4.0},{"t":"2020-02-08","v":3.7},{"t":"2020-02-14","v":4.4},{"t":"2020-02-20","v":4.3},{"t":"2020-02-23","v":5.8},{"t":"2020-03-03","v":14.8},{"t":"2020-03-07","v":6.1},{"t":"2020-03-09","v":10.3},{"t":"2020-03-13","v":6.1},{"t":"2020-03-16","v":7.5},{"t":"2020-03-18","v":13.6}
]
},
"columns": 1,
"align": "none",
"spacing": 46,
"resolve": {"scale": {"color": "independent"}, "legend": {"color": "independent"}},
"concat": [
 {"columns": 1, "align": "none", "spacing": 4, "resolve": {"scale": {"color": "independent"}, "legend": {"color": "independent"}}, "concat": [
  {"spacing": 39, "hconcat": [
   {"width": 468, "height": 1, "data": {"values": [{}]}, "mark": {"type": "point", "opacity": 0},
    "encoding": {"y": {"datum": 0, "type": "quantitative", "scale": {"domain": [-1, 1]}, "axis": {"title": null, "values": [0], "labels": false, "domain": false, "tickSize": 42, "tickColor": "#8c8c8c", "tickWidth": 1, "minExtent": 42}}},
    "view": {"fill": "#8c8c8c", "stroke": null}},
   {"width": 508, "height": 1, "data": {"values": []}, "mark": {"type": "point", "opacity": 0}, "view": {"fill": "#8c8c8c", "stroke": null}}
  ]},
  {"spacing": 54, "resolve": {"scale": {"color": "independent"}, "legend": {"color": "independent"}}, "hconcat": [
   {"width": 453, "height": 215,
    "title": {"text": ["Exhibit 1: Crude differentials are collapsing, indicating local", "logistical saturation"], "subtitle": "USD/bbl differential vs Brent", "offset": 36},
    "layer": [
     {"data": {"values": [{}]}, "mark": {"type": "rule", "color": "#a6a6a6", "strokeWidth": 1},
      "encoding": {"y": {"datum": 0, "type": "quantitative"}}},
     {"data": {"name": "p1"}, "transform": [{"fold": ["Bakken", "Midland", "LLS", "Mars", "WTS", "WTI"], "as": ["series", "value"]}],
      "mark": {"type": "line", "strokeWidth": 2.5},
      "encoding": {
       "x": {"field": "d", "type": "temporal", "scale": {"type": "utc", "domain": [{"year": 2019, "month": 11, "date": 1, "utc": true}, {"year": 2020, "month": 3, "date": 31, "utc": true}]},
             "axis": {"title": null, "format": "%b-%y", "tickCount": {"interval": "month", "step": 1}, "domain": false, "ticks": false, "labelFlush": false, "labelPadding": 6, "labelOverlap": false}},
       "y": {"field": "value", "type": "quantitative", "title": null, "scale": {"domain": [-14, 2], "nice": false}, "axis": {"title": null, "values": [2, 0, -2, -4, -6, -8, -10, -12, -14], "tickCount": 50, "format": "d", "minExtent": 42, "labelOverlap": false}},
       "color": {"field": "series", "type": "nominal",
         "scale": {"domain": ["Bakken", "Midland", "LLS", "Mars", "WTS", "WTI"], "range": ["#0c2c52", "#a9c6e3", "#979797", "#6b8fc2", "#7ab648", "#8a8a92"]},
         "legend": {"title": null, "orient": "none", "direction": "horizontal", "legendX": 9, "legendY": 238}}
      }}
    ]},
   {"width": 441, "height": 194,
    "title": {"text": ["Exhibit 2: The demand impact is unprecedented in global post-war", "modern history"], "subtitle": "Global oil demand with GS forecast through Jun-20 (kb/d, yoy)", "offset": 36},
    "layer": [
     {"data": {"values": [{}]}, "mark": {"type": "rule", "color": "#a6a6a6", "strokeWidth": 1},
      "encoding": {"y": {"datum": 0, "type": "quantitative"}}},
     {"data": {"name": "yoy"}, "mark": {"type": "line", "strokeWidth": 2},
      "encoding": {
       "x": {"field": "t", "type": "temporal", "scale": {"type": "utc", "domain": [{"year": 1985, "month": 1, "date": 1, "utc": true}, {"year": 2021, "month": 1, "date": 15, "utc": true}]},
             "axis": {"title": null, "format": "%b-%y", "labelAngle": -90, "labelAlign": "right", "labelBaseline": "middle", "domain": false, "ticks": false, "labelFlush": false, "labelPadding": 3, "labelOverlap": false, "tickCount": 100,
               "values": [{"year":1985,"month":1,"utc":true},{"year":1986,"month":4,"utc":true},{"year":1987,"month":7,"utc":true},{"year":1988,"month":10,"utc":true},{"year":1990,"month":1,"utc":true},{"year":1991,"month":4,"utc":true},{"year":1992,"month":7,"utc":true},{"year":1993,"month":10,"utc":true},{"year":1995,"month":1,"utc":true},{"year":1996,"month":4,"utc":true},{"year":1997,"month":7,"utc":true},{"year":1998,"month":10,"utc":true},{"year":2000,"month":1,"utc":true},{"year":2001,"month":4,"utc":true},{"year":2002,"month":7,"utc":true},{"year":2003,"month":10,"utc":true},{"year":2005,"month":1,"utc":true},{"year":2006,"month":4,"utc":true},{"year":2007,"month":7,"utc":true},{"year":2008,"month":10,"utc":true},{"year":2010,"month":1,"utc":true},{"year":2011,"month":4,"utc":true},{"year":2012,"month":7,"utc":true},{"year":2013,"month":10,"utc":true},{"year":2015,"month":1,"utc":true},{"year":2016,"month":4,"utc":true},{"year":2017,"month":7,"utc":true},{"year":2018,"month":10,"utc":true},{"year":2020,"month":1,"utc":true}]}},
       "y": {"field": "v", "type": "quantitative", "title": null, "scale": {"domain": [-17500, 5000], "nice": false}, "axis": {"title": null, "values": [5000, 2500, 0, -2500, -5000, -7500, -10000, -12500, -15000, -17500], "tickCount": 50, "format": "d", "minExtent": 52, "labelOverlap": false}},
       "color": {"datum": "YoY", "type": "nominal", "scale": {"domain": ["YoY", "GSe"], "range": ["#0c2c52", "#a6c8e6"]},
         "legend": {"title": null, "orient": "none", "direction": "horizontal", "legendX": 149, "legendY": 238}}
      }},
     {"data": {"name": "gse"}, "mark": {"type": "line", "strokeWidth": 1.5},
      "encoding": {"x": {"field": "t", "type": "temporal"}, "y": {"field": "v", "type": "quantitative"}, "color": {"datum": "GSe", "type": "nominal"}}},
     {"data": {"name": "gse"}, "mark": {"type": "point", "shape": "diamond", "size": 22, "filled": true, "color": "#a6c8e6", "opacity": 1},
      "encoding": {"x": {"field": "t", "type": "temporal"}, "y": {"field": "v", "type": "quantitative"}}}
    ]}
  ]}
 ]},
 {"columns": 1, "align": "none", "spacing": 9, "resolve": {"scale": {"color": "independent"}, "legend": {"color": "independent"}}, "concat": [
  {"spacing": 39, "hconcat": [
   {"width": 468, "height": 1, "data": {"values": [{}]}, "mark": {"type": "point", "opacity": 0},
    "encoding": {"y": {"datum": 0, "type": "quantitative", "scale": {"domain": [-1, 1]}, "axis": {"title": null, "values": [0], "labels": false, "domain": false, "tickSize": 42, "tickColor": "#8c8c8c", "tickWidth": 1, "minExtent": 42}}},
    "view": {"fill": "#8c8c8c", "stroke": null},
    "title": {"text": "Source: Goldman Sachs Global Investment Research, Platts, CME, ICE", "offset": 21, "fontSize": 13.5, "fontWeight": "normal", "frame": "bounds", "color": "#3a3a3a", "dx": 2}},
   {"width": 508, "height": 1, "data": {"values": []}, "mark": {"type": "point", "opacity": 0}, "view": {"fill": "#8c8c8c", "stroke": null},
    "title": {"text": "Source: Goldman Sachs Global Investment Research, IEA, EIA, JODI, National Sources", "offset": 21, "fontSize": 13.5, "fontWeight": "normal", "frame": "group", "color": "#3a3a3a", "dx": 1}}
  ]},
  {"spacing": 47, "resolve": {"scale": {"color": "independent"}, "legend": {"color": "independent"}}, "hconcat": [
   {"width": 455, "height": 194,
    "title": {"text": ["Exhibit 3: Core-OPEC and Russia have never cut production more", "than 3 mb/d"], "subtitle": ["MoM changes in supply (production plus stock changes) for Saudi,", "UAE, Kuwait, and Russia (kb/d)"], "offset": 34},
    "layer": [
     {"data": {"values": [{}]}, "mark": {"type": "rule", "color": "#a6a6a6", "strokeWidth": 1},
      "encoding": {"y": {"datum": 0, "type": "quantitative"}}},
     {"data": {"values": [{"t": "1984-01", "v": -2800}, {"t": "2020-07", "v": -2800}]}, "mark": {"type": "line", "strokeWidth": 3},
      "encoding": {
       "x": {"field": "t", "type": "temporal"},
       "y": {"field": "v", "type": "quantitative"},
       "color": {"datum": "Max MoM decline", "type": "nominal", "scale": {"domain": ["MoM prod", "MoM supply", "April announced", "Max MoM decline"], "range": ["#0c2c52", "#a6c8e6", "#c0282d", "#f28c3a"]},
         "legend": {"title": null, "orient": "none", "direction": "horizontal", "legendX": -1, "legendY": 241}}
      }},
     {"data": {"name": "prod"}, "mark": {"type": "line", "strokeWidth": 3},
      "encoding": {
       "x": {"field": "t", "type": "temporal", "scale": {"type": "utc", "domain": [{"year": 1984, "month": 1, "date": 1, "utc": true}, {"year": 2020, "month": 7, "date": 1, "utc": true}]},
             "axis": {"title": null, "format": "%b-%y", "labelAngle": -90, "labelAlign": "right", "labelBaseline": "middle", "domain": false, "ticks": false, "labelFlush": false, "labelPadding": 3, "labelOverlap": false, "tickCount": 100,
               "values": [{"year":1984,"month":1,"utc":true},{"year":1985,"month":4,"utc":true},{"year":1986,"month":7,"utc":true},{"year":1987,"month":10,"utc":true},{"year":1989,"month":1,"utc":true},{"year":1990,"month":4,"utc":true},{"year":1991,"month":7,"utc":true},{"year":1992,"month":10,"utc":true},{"year":1994,"month":1,"utc":true},{"year":1995,"month":4,"utc":true},{"year":1996,"month":7,"utc":true},{"year":1997,"month":10,"utc":true},{"year":1999,"month":1,"utc":true},{"year":2000,"month":4,"utc":true},{"year":2001,"month":7,"utc":true},{"year":2002,"month":10,"utc":true},{"year":2004,"month":1,"utc":true},{"year":2005,"month":4,"utc":true},{"year":2006,"month":7,"utc":true},{"year":2007,"month":10,"utc":true},{"year":2009,"month":1,"utc":true},{"year":2010,"month":4,"utc":true},{"year":2011,"month":7,"utc":true},{"year":2012,"month":10,"utc":true},{"year":2014,"month":1,"utc":true},{"year":2015,"month":4,"utc":true},{"year":2016,"month":7,"utc":true},{"year":2017,"month":10,"utc":true},{"year":2019,"month":1,"utc":true},{"year":2020,"month":4,"utc":true}]}},
       "y": {"field": "v", "type": "quantitative", "title": null, "scale": {"domain": [-4000, 5000], "nice": false}, "axis": {"title": null, "values": [5000, 4000, 3000, 2000, 1000, 0, -1000, -2000, -3000, -4000], "tickCount": 50, "format": "d", "minExtent": 42, "labelOverlap": false}},
       "color": {"datum": "MoM prod", "type": "nominal"}}},
     {"data": {"name": "supply"}, "mark": {"type": "line", "strokeWidth": 3},
      "encoding": {"x": {"field": "t", "type": "temporal"}, "y": {"field": "v", "type": "quantitative"}, "color": {"datum": "MoM supply", "type": "nominal"}}},
     {"data": {"values": [{"t": "2020-04", "v": 4050}]}, "mark": {"type": "line", "strokeWidth": 3},
      "encoding": {"x": {"field": "t", "type": "temporal"}, "y": {"field": "v", "type": "quantitative"}, "color": {"datum": "April announced", "type": "nominal"}}},
     {"data": {"values": [{"t": "2020-04", "v": 4050}]}, "mark": {"type": "point", "shape": "diamond", "size": 150, "filled": true, "color": "#c0282d", "opacity": 1},
      "encoding": {"x": {"field": "t", "type": "temporal"}, "y": {"field": "v", "type": "quantitative"}}}
    ]},
   {"width": 444, "height": 194,
    "title": {"text": ["Exhibit 4: Saudi’s export push along with floating storage", "economics have meaningfully tightened freight markets"], "subtitle": "VLCC timecharter (lhs, USD 1000s/day) and freight rates (rhs, USD/bbl)", "offset": 54},
    "resolve": {"scale": {"y": "independent"}},
    "layer": [
     {"data": {"name": "fr"}, "mark": {"type": "line", "strokeWidth": 2},
      "encoding": {
       "x": {"field": "t", "type": "temporal", "scale": {"type": "utc", "domain": [{"year": 2018, "month": 1, "date": 1, "utc": true}, {"year": 2020, "month": 4, "date": 26, "utc": true}]},
             "axis": {"title": null, "format": "%b-%y", "tickCount": {"interval": "month", "step": 1}, "labelAngle": -90, "labelAlign": "right", "labelBaseline": "middle", "domain": true, "ticks": true, "tickSize": 4, "labelFlush": false, "labelPadding": 2, "labelOverlap": false}},
       "y": {"field": "v", "type": "quantitative", "title": null, "scale": {"domain": [0, 16], "nice": false}, "axis": {"orient": "right", "values": [0, 2, 4, 6, 8, 10, 12, 14, 16], "tickCount": 50, "format": "d", "labelOverlap": false}},
       "color": {"datum": "VLCC USGC-SGP (USD/bbl)", "type": "nominal", "scale": {"domain": ["1y VLCC timecharter ($k/day)", "VLCC USGC-SGP (USD/bbl)"], "range": ["#0c2c52", "#a6c8e6"]},
         "legend": {"title": null, "orient": "none", "direction": "horizontal", "legendX": 28, "legendY": 241}}
      }},
     {"data": {"name": "tc"}, "mark": {"type": "line", "strokeWidth": 2},
      "encoding": {
       "x": {"field": "t", "type": "temporal"},
       "y": {"field": "v", "type": "quantitative", "title": null, "scale": {"domain": [0, 90], "nice": false}, "axis": {"orient": "left", "values": [0, 10, 20, 30, 40, 50, 60, 70, 80, 90], "tickCount": 50, "format": "d", "minExtent": 33, "labelOverlap": false}},
       "color": {"datum": "1y VLCC timecharter ($k/day)", "type": "nominal"}
      }}
    ]}
  ]}
 ]}
]
}
